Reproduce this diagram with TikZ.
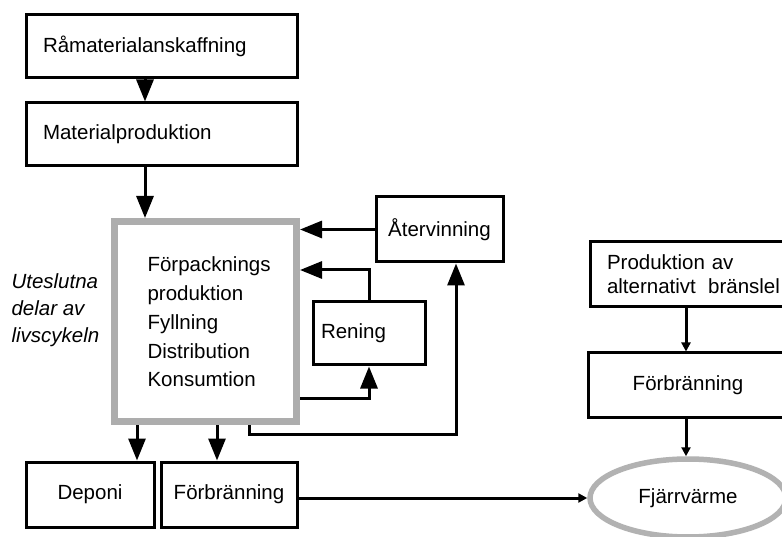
\documentclass[tikz,border=0pt]{standalone}
\usepackage{fontspec}
\setmainfont{Liberation Sans}
\usetikzlibrary{arrows.meta,shapes.geometric}
\begin{document}
\begin{tikzpicture}[x=1pt,y=-1pt,
  txt/.style={font=\fontsize{20.5}{24}\selectfont},
  box/.style={txt, draw, line width=3pt, inner ysep=0pt},
  lbox/.style={box, align=left},
  stip/.style={draw=black!32, line width=7pt},
  big/.style={line width=3pt, -{Triangle[length=22pt,width=17pt]}},
  small/.style={line width=3pt, -{Triangle[length=9pt,width=9pt]}},
  ]
\useasboundingbox (0,0) rectangle (782,537);
\clip (0,0) rectangle (782,537);
\fill[white] (0,0) rectangle (782,537);

% boxes
\node[lbox, inner xsep=17pt, text width=237pt, minimum height=63pt] (rama) at (161.5,46.5) {Råmaterialanskaffning};
\node[lbox, inner xsep=17pt, text width=237pt, minimum height=63pt] (mat) at (161.5,134.5) {Materialproduktion};
\node[stip, minimum width=182pt, minimum height=200pt, inner sep=0pt] (main) at (205.5,321.5) {};
\node[txt, anchor=west, align=left, font=\fontsize{20.5}{28.7}\selectfont] (maintxt) at (144,322)
  {Förpacknings\\produktion\\Fyllning\\Distribution\\Konsumtion};
\node[box, minimum width=127pt, minimum height=65pt] (atv) at (439.5,229.5) {Återvinning};
\node[lbox, inner xsep=8pt, text width=96pt, minimum height=63pt] (ren) at (369,333.5) {Rening};
\node[box, minimum width=128pt, minimum height=65pt] (dep) at (90,494.5) {Deponi};
\node[box, minimum width=136pt, minimum height=65pt] (forb1) at (229,494.5) {Förbränning};
\node[lbox, inner xsep=17pt, text width=190pt, minimum height=65pt] (prod) at (702,274.5)
  {Produktion av\\alternativt\hspace{0.6em}bränslel};
\node[box, minimum width=200pt, minimum height=64pt] (forb2) at (688,385) {Förbränning};
\node[ellipse, draw=black!30, line width=5.5pt, minimum width=196pt, minimum height=78pt, txt] (fjv) at (688,498) {Fjärrvärme};
\node[txt, anchor=west, align=left, font=\fontsize{20.5}{27}\selectfont\itshape] (ute) at (8,310)
  {Uteslutna\\delar av\\livscykeln};

% connectors
\draw[big] ([xshift=-16.5pt]rama.south) -- ([xshift=-16.5pt]mat.north);
\draw[big] ([xshift=-16.5pt]mat.south) -- ([xshift=-60.5pt]main.north);
\draw[big] (atv.west) -- (atv.west -| main.east);
\draw[big] (ren.north) |- ([yshift=51.5pt]main.east);
\draw[big] ([yshift=-76.5pt]main.east) -| (ren.south);
\draw[big] ([xshift=43.5pt]main.south) -- ++(0,9) -| ([xshift=16.5pt]atv.south);
\draw[big] ([xshift=-68.5pt]main.south) -- ([xshift=-68.5pt]main.south |- dep.north);
\draw[big] ([xshift=11.5pt]main.south) -- ([xshift=11.5pt]main.south |- forb1.north);
\draw[small] (fjv.west -| forb1.east) -- (fjv.west);
\draw[small] ([xshift=-16pt]prod.south) -- ([xshift=-16pt]prod.south |- forb2.north);
\draw[small] ([xshift=-2pt]forb2.south) -- ([xshift=-2pt]forb2.south |- fjv.north);
\end{tikzpicture}
\end{document}
